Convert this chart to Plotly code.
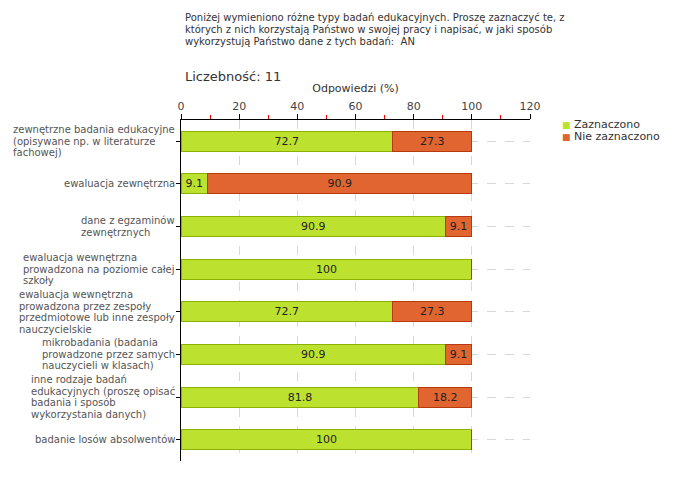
import plotly.graph_objects as go

categories = [
    "zewnętrzne badania edukacyjne<br>(opisywane np. w literaturze<br>fachowej)",
    "ewaluacja zewnętrzna",
    "dane z egzaminów<br>zewnętrznych",
    "ewaluacja wewnętrzna<br>prowadzona na poziomie całej<br>szkoły",
    "ewaluacja wewnętrzna<br>prowadzona przez zespoły<br>przedmiotowe lub inne zespoły<br>nauczycielskie",
    "mikrobadania (badania<br>prowadzone przez samych<br>nauczycieli w klasach)",
    "inne rodzaje badań<br>edukacyjnych (proszę opisać<br>badania i sposób<br>wykorzystania danych)",
    "badanie losów absolwentów",
]
zaznaczono = [72.7, 9.1, 90.9, 100, 72.7, 90.9, 81.8, 100]
nie_zaznaczono = [27.3, 90.9, 9.1, 0, 27.3, 9.1, 18.2, 0]
series_names = ["Zaznaczono", "Nie zaznaczono"]
series_colors = ["#BDE12F", "#E06530"]
series_edges = ["#8CB000", "#B83A0A"]
title_lines = [
    "Poniżej wymieniono różne typy badań edukacyjnych. Proszę zaznaczyć te, z",
    "których z nich korzystają Państwo w swojej pracy i napisać, w jaki sposób",
    "wykorzystują Państwo dane z tych badań:  AN",
]
count_label = "Liczebność: 11"
axis_title = "Odpowiedzi (%)"

FONT = "DejaVu Sans"
ids = list(range(len(categories)))

def labels(vals):
    return [("" if v == 0 else str(v)) for v in vals]

fig = go.Figure()
for name, vals, col, edge in zip(series_names, [zaznaczono, nie_zaznaczono], series_colors, series_edges):
    fig.add_trace(go.Bar(
        y=ids, x=vals, orientation="h", name=name,
        marker=dict(color=col, line=dict(color=edge, width=1)),
        text=labels(vals), textposition="inside", insidetextanchor="middle",
        textfont=dict(color="#222", size=11, family=FONT), width=0.47,
        constraintext="none", showlegend=False,
    ))

def tight(txt, size=10):
    lines = txt.split("<br>")
    return "<br>".join(f'<span style="font-size:{size}px">{l}</span>' for l in lines)

annotations = []
for i, cat in enumerate(categories):
    annotations.append(dict(
        x=0, xref="paper", y=i, yref="y", text=tight(cat), showarrow=False,
        xanchor="right", yanchor="middle", align="left", xshift=-4,
        font=dict(family=FONT, size=8.9, color="#555"),
    ))
title_y = [1.301, 1.266, 1.231]
for line, yy in zip(title_lines, title_y):
    annotations.append(dict(
        x=0.006, xref="paper", y=yy, yref="paper", text=line, showarrow=False,
        xanchor="left", yanchor="middle", font=dict(family=FONT, size=10, color="#333"),
    ))
annotations.append(dict(
    x=0.006, xref="paper", y=1.129, yref="paper", text=count_label, showarrow=False,
    xanchor="left", yanchor="middle", font=dict(family=FONT, size=13, color="#333"),
))
# legend drawn as text entries built from the series names/colours
leg_y = [0.988, 0.953]
for name, col, edge, yy in zip(series_names, series_colors, series_edges, leg_y):
    annotations.append(dict(
        x=1.086, xref="paper", y=yy, yref="paper", showarrow=False,
        xanchor="left", yanchor="middle",
        text=f'<span style="color:{col};font-size:9px">■</span> {name}',
        font=dict(family=FONT, size=11, color="#333"),
    ))

# the page body adds an 8px offset, so the figure is 8px smaller and margins shifted
fig.update_layout(
    width=672, height=472,
    margin=dict(l=173, r=150, t=112, b=19, autoexpand=False),
    barmode="stack",
    plot_bgcolor="white", paper_bgcolor="white",
    font=dict(family=FONT, size=11, color="#333"),
    showlegend=False,
    annotations=annotations,
)
fig.update_xaxes(
    side="top", range=[0, 120], dtick=20, tick0=0,
    showline=True, linecolor="black", linewidth=1,
    ticks="outside", ticklen=5, tickcolor="black",
    minor=dict(dtick=10, ticks="outside", ticklen=4, tickcolor="red"),
    showgrid=True, gridcolor="#d8d8d8", griddash="dash", zeroline=False,
    tickfont=dict(family=FONT, size=11, color="#444"),
    title=dict(text=axis_title, font=dict(family=FONT, size=11, color="#333"), standoff=4),
)
fig.update_yaxes(
    range=[7.5, -0.5], showticklabels=False, tickvals=ids,
    showline=True, linecolor="black", linewidth=1,
    ticks="outside", ticklen=4, tickcolor="black",
    showgrid=True, gridcolor="#d8d8d8", griddash="dash", zeroline=False,
)

fig.write_html("out.html")
